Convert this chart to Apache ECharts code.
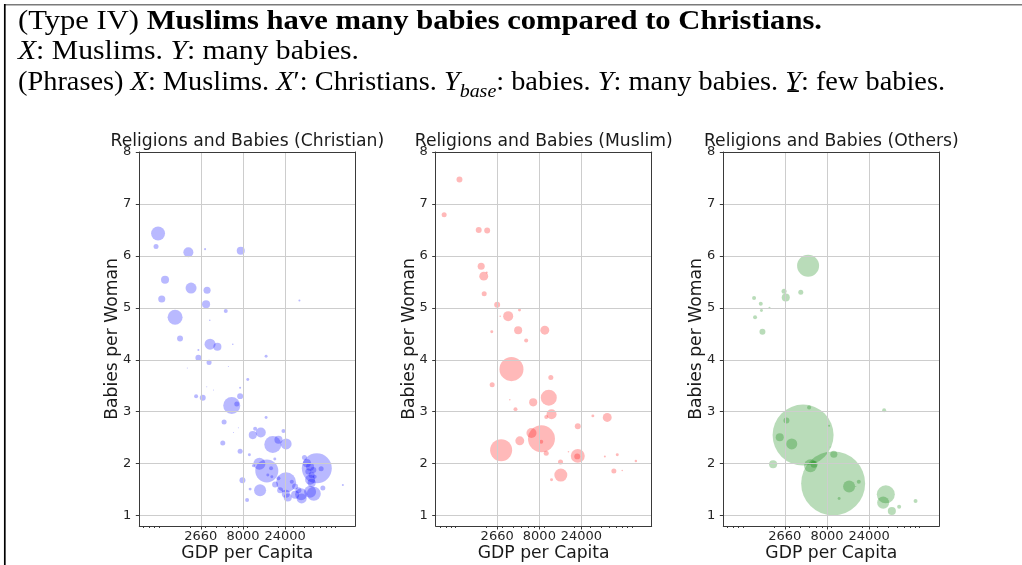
<!DOCTYPE html>
<html>
<head>
<meta charset="utf-8">
<script src="https://cdn.jsdelivr.net/npm/echarts@6/dist/echarts.min.js"></script>
<style>html,body{margin:0;padding:0;background:#fff}#c{width:1022px;height:565px}</style>
</head>
<body>
<div id="c"></div>
<script>
// ---------------- DATA ----------------
const christianGdp = [873, 828, 1925, 2976, 7555, 1047, 2065, 961, 3136, 3055, 5108, 3365, 34900, 1361, 1549, 2500, 3390, 4105, 6135, 2500, 3303, 1874, 5470, 14630, 9070, 2355, 2803, 3111, 3700, 5970, 6810, 7430, 7430, 4890, 7100, 6237, 4724, 7430, 7890, 8910, 9460, 14630, 23000, 10990, 10330, 12740, 17420, 20200, 24660, 18360, 12280, 14900, 16650, 15300, 10500, 9640, 12500, 24660, 24470, 25750, 18500, 21100, 31200, 36500, 37000, 46100, 50800, 54950, 39800, 42400, 46100, 50200, 44000, 48000, 52000, 61500, 46100, 48000, 64300, 108400, 16980, 20200, 31200, 34000, 28600];
const christianFertility = [6.43, 6.18, 6.07, 6.13, 6.10, 5.54, 5.38, 5.17, 5.34, 5.07, 4.94, 4.76, 5.14, 4.82, 4.41, 4.19, 4.30, 4.25, 4.30, 4.04, 3.95, 3.84, 3.87, 4.07, 3.62, 3.30, 3.27, 3.48, 3.42, 3.12, 3.15, 3.30, 3.46, 2.80, 2.69, 2.60, 2.40, 2.24, 1.68, 1.30, 2.17, 2.89, 2.63, 2.67, 2.55, 2.60, 2.37, 2.46, 2.38, 2.09, 2.00, 1.86, 1.91, 1.78, 1.96, 1.51, 1.49, 1.64, 1.42, 1.35, 1.60, 1.49, 1.40, 1.41, 1.33, 1.46, 1.42, 1.91, 2.12, 2.01, 1.94, 1.88, 1.85, 1.78, 1.75, 1.90, 1.69, 1.63, 1.53, 1.59, 1.75, 1.72, 1.56, 1.49, 1.65];
const christianPopulation = [66, 8.5, 34, 1.4, 22, 22, 41, 17, 17, 22, 5.4, 0.8, 1.4, 76, 12, 1.4, 41, 22, 0.8, 12, 8.5, 0.3, 0.3, 3, 3, 5.4, 12, 0.3, 0.3, 98, 8.5, 12, 1.4, 8.5, 0.3, 0.3, 8.5, 8.5, 12, 5.4, 3, 3, 5.4, 5.4, 22, 34, 98, 22, 41, 3, 49, 179, 5.4, 3, 3, 3, 49, 135, 22, 22, 12, 12, 22, 49, 34, 49, 66, 304, 8.5, 22, 22, 12, 12, 12, 5.4, 8.5, 34, 22, 8.5, 1.4, 3, 5.4, 12, 12, 5.4];

const muslimGdp = [995, 667, 1644, 2050, 1753, 1874, 2027, 1896, 2660, 3545, 4762, 2876, 4600, 9220, 2311, 5670, 3863, 10790, 2335, 10230, 6810, 3700, 4290, 10990, 9570, 32300, 47000, 21800, 8450, 6510, 8400, 4800, 2950, 9570, 17100, 21800, 21500, 13900, 14000, 10990, 44200, 61100, 55900, 69500, 99300];
const muslimFertility = [7.47, 6.79, 6.50, 6.49, 5.80, 5.61, 5.68, 5.27, 5.06, 4.84, 4.96, 4.84, 4.57, 4.57, 4.54, 4.37, 3.82, 3.66, 3.52, 3.27, 3.18, 3.23, 3.05, 2.95, 2.90, 2.92, 2.89, 2.72, 2.48, 2.59, 2.42, 2.44, 2.26, 2.20, 2.23, 2.15, 2.14, 2.03, 1.78, 1.69, 2.14, 2.17, 1.86, 1.87, 2.05];
const muslimPopulation = [12, 8.5, 12, 12, 17, 27, 1.4, 8.5, 12, 34, 3, 0.8, 22, 27, 3, 5.4, 195, 8.5, 8.5, 87, 22, 0.8, 5.4, 34, 5.4, 3, 27, 12, 246, 34, 5.4, 27, 164, 8.5, 0.8, 66, 12, 8.5, 57, 3, 1.4, 3, 8.5, 0.8, 2.1];

const othersGdp = [4890, 2612, 2730, 4040, 1194, 1422, 1448, 1786, 1225, 1486, 4290, 9400, 5020, 2780, 2333, 3193, 8460, 8690, 9570, 1962, 5200, 5720, 14260, 18360, 16980, 10990, 35560, 37150, 34670, 43500, 52600, 80700];
const othersFertility = [5.81, 5.32, 5.20, 5.30, 5.19, 5.08, 4.95, 5.00, 4.82, 4.54, 2.55, 1.62, 3.08, 2.83, 2.51, 2.38, 2.73, 2.32, 2.18, 1.99, 1.96, 1.99, 1.56, 1.65, 1.56, 1.33, 3.03, 1.41, 1.25, 1.09, 1.17, 1.28];
const othersPopulation = [164, 8.5, 22, 8.5, 5.4, 5.4, 3, 1.4, 5.4, 12, 1258, 1385, 5.4, 12, 22, 41, 1.4, 0.3, 17, 22, 57, 17, 49, 5.4, 0.3, 3, 5.4, 110, 49, 22, 5.4, 5.4];

const panelTitles = ['Religions and Babies (Christian)', 'Religions and Babies (Muslim)', 'Religions and Babies (Others)'];
const xAxisName = 'GDP per Capita';
const yAxisName = 'Babies per Woman';
const xTickValues = [2660, 8000, 24000];
const xMinorTickValues = [600, 700, 800, 900, 2000, 3000, 4000, 5000, 6000, 7000, 8000, 9000, 20000, 30000, 40000, 50000, 60000, 70000, 80000, 90000];
const yTickValues = [1, 2, 3, 4, 5, 6, 7, 8];

const headerLines = [
  [['(Type IV) ', 'n'], ['Muslims have many babies compared to Christians.', 'b']],
  [['X', 'i'], [': Muslims. ', 'n'], ['Y', 'i'], [': many babies.', 'n']],
  [['(Phrases) ', 'n'], ['X', 'i'], [': Muslims. ', 'n'], ['X', 'i'], ['\u2032', 'n'], [': Christians. ', 'n'], ['Y', 'i'], ['base', 's'], [': babies. ', 'n'], ['Y', 'i'], [': many babies. ', 'n'], ['Y', 'u'], [': few babies.', 'n']]
];

// ---------------- LAYOUT ----------------
const X_MIN = 535, X_MAX = 150000, Y_MIN = 0.8, Y_MAX = 8;
const gridLefts = [139.3, 435.7, 723.3];
const GRID_TOP = 152, GRID_W = 216, GRID_H = 374;
const colors = ['rgba(0,0,255,0.34)', 'rgba(255,0,0,0.34)', 'rgba(0,128,0,0.34)'];
const sizeScale = 1.72;
const SANS = 'DejaVu Sans';
const SPINE = '#3a3a3a';
const GRIDC = '#cdcdcd';

const panels = [
  {gdp: christianGdp, fert: christianFertility, pop: christianPopulation},
  {gdp: muslimGdp, fert: muslimFertility, pop: muslimPopulation},
  {gdp: othersGdp, fert: othersFertility, pop: othersPopulation}
];

const L = Math.log10;
const xAxes = [], yAxes = [], series = [], grids = [], titles = [];
panels.forEach((p, i) => {
  grids.push({left: gridLefts[i], top: GRID_TOP, width: GRID_W, height: GRID_H, containLabel: false, outerBoundsMode: 'none'});
  titles.push({text: panelTitles[i], left: gridLefts[i] + GRID_W / 2, top: 133, textAlign: 'center', padding: 0,
    textStyle: {fontFamily: SANS, fontSize: 17.2, fontWeight: 'normal', color: '#1a1a1a'}});
  // data axis (log)
  xAxes.push({type: 'log', logBase: 10, gridIndex: i, min: X_MIN, max: X_MAX, position: 'bottom',
    axisLine: {show: false}, axisTick: {show: false}, axisLabel: {show: false}, splitLine: {show: false}});
  // major ticks / labels / gridlines (log-space value axis)
  xAxes.push({type: 'value', gridIndex: i, min: L(X_MIN), max: L(X_MAX), position: 'bottom', z: 3,
    axisLine: {show: true, onZero: false, lineStyle: {color: SPINE, width: 1}},
    axisTick: {show: true, customValues: xTickValues.map(L), length: 3.5, lineStyle: {color: SPINE}},
    axisLabel: {show: true, customValues: xTickValues.map(L), margin: 4.5, fontFamily: SANS, fontSize: 13, color: '#262626',
      formatter: v => { let best = xTickValues[0]; xTickValues.forEach(t => { if (Math.abs(L(t) - v) < Math.abs(L(best) - v)) best = t; }); return String(best); }},
    splitLine: {show: true, lineStyle: {color: GRIDC, width: 1}},
    name: xAxisName, nameLocation: 'middle', nameGap: 19, nameMoveOverlap: false,
    nameTextStyle: {fontFamily: SANS, fontSize: 17.2, color: '#1a1a1a'}});
  // minor ticks
  xAxes.push({type: 'value', gridIndex: i, min: L(X_MIN), max: L(X_MAX), position: 'bottom', z: 3,
    axisLine: {show: false, onZero: false}, axisTick: {show: true, customValues: xMinorTickValues.map(L), length: 2, lineStyle: {color: SPINE}},
    axisLabel: {show: false}, splitLine: {show: false}});
  // top spine
  xAxes.push({type: 'value', gridIndex: i, min: 0, max: 1, position: 'top', z: 3,
    axisLine: {show: true, onZero: false, lineStyle: {color: SPINE, width: 1}}, axisTick: {show: false}, axisLabel: {show: false}, splitLine: {show: false}});
  yAxes.push({type: 'value', gridIndex: i, min: Y_MIN, max: Y_MAX, position: 'left', z: 3,
    axisLine: {show: true, onZero: false, lineStyle: {color: SPINE, width: 1}},
    axisTick: {show: true, customValues: yTickValues, length: 3.5, lineStyle: {color: SPINE}},
    axisLabel: {show: true, customValues: yTickValues, margin: 8, fontFamily: SANS, fontSize: 13, color: '#262626'},
    splitLine: {show: true, lineStyle: {color: GRIDC, width: 1}},
    name: yAxisName, nameLocation: 'middle', nameGap: 18, nameRotate: 90, nameMoveOverlap: false,
    nameTextStyle: {fontFamily: SANS, fontSize: 17.2, color: '#1a1a1a'}});
  yAxes.push({type: 'value', gridIndex: i, min: Y_MIN, max: Y_MAX, position: 'right', z: 3,
    axisLine: {show: true, onZero: false, lineStyle: {color: SPINE, width: 1}}, axisTick: {show: false}, axisLabel: {show: false}, splitLine: {show: false}});
  series.push({type: 'scatter', xAxisIndex: 4 * i, yAxisIndex: 2 * i, silent: true,
    data: p.gdp.map((g, j) => [g, p.fert[j], p.pop[j]]),
    symbolSize: v => Math.max(1, sizeScale * Math.sqrt(v[2])),
    itemStyle: {color: colors[i], borderWidth: 0},
    emphasis: {disabled: true}});
});

// ---------------- HEADER (text) ----------------
const SERIF = '"Liberation Serif", serif';
const fonts = {
  n: '27px ' + SERIF, b: 'bold 27px ' + SERIF, i: 'italic 27px ' + SERIF, u: 'italic 27px ' + SERIF, s: 'italic 19px ' + SERIF
};
const headerLeft = 18;
const headerBaselines = [26.5, 56.5, 87];
const headerRights = [822, 359, 945];
const TEXT_SHIFT = 5;
const ctx = document.createElement('canvas').getContext('2d');
const graphics = [];
headerLines.forEach((segs, li) => {
  let x = 0; const children = [];
  const base = headerBaselines[li];
  segs.forEach(([t, k]) => {
    ctx.font = fonts[k];
    const w = ctx.measureText(t).width;
    const sizePx = k === 's' ? 19 : 27;
    const baselineY = k === 's' ? base + 6 : base;
    children.push({type: 'text', x: x, y: baselineY - 0.3375 * sizePx + TEXT_SHIFT,
      style: {text: t, font: fonts[k], fill: '#000', align: 'left', verticalAlign: 'middle'}});
    if (k === 'u') {
      children.push({type: 'rect', shape: {x: x + 2, y: base + 3.2, width: w - 4, height: 1.8}, style: {fill: '#000'}});
    }
    x += w;
  });
  graphics.push({type: 'group', x: headerLeft, y: 0, scaleX: (headerRights[li] - headerLeft) / x, children: children});
});
graphics.push({type: 'line', shape: {x1: 4, y1: 4.7, x2: 1022, y2: 4.7}, style: {stroke: '#7a7a7a', lineWidth: 1.5}});
graphics.push({type: 'line', shape: {x1: 4.8, y1: 4, x2: 4.8, y2: 565}, style: {stroke: '#000', lineWidth: 1.7}});

const chart = echarts.init(document.getElementById('c'), null, {renderer: 'canvas'});
chart.setOption({
  animation: false,
  backgroundColor: '#ffffff',
  textStyle: {fontFamily: SANS},
  title: titles,
  grid: grids,
  xAxis: xAxes,
  yAxis: yAxes,
  series: series,
  graphic: graphics
});
</script>
</body>
</html>
